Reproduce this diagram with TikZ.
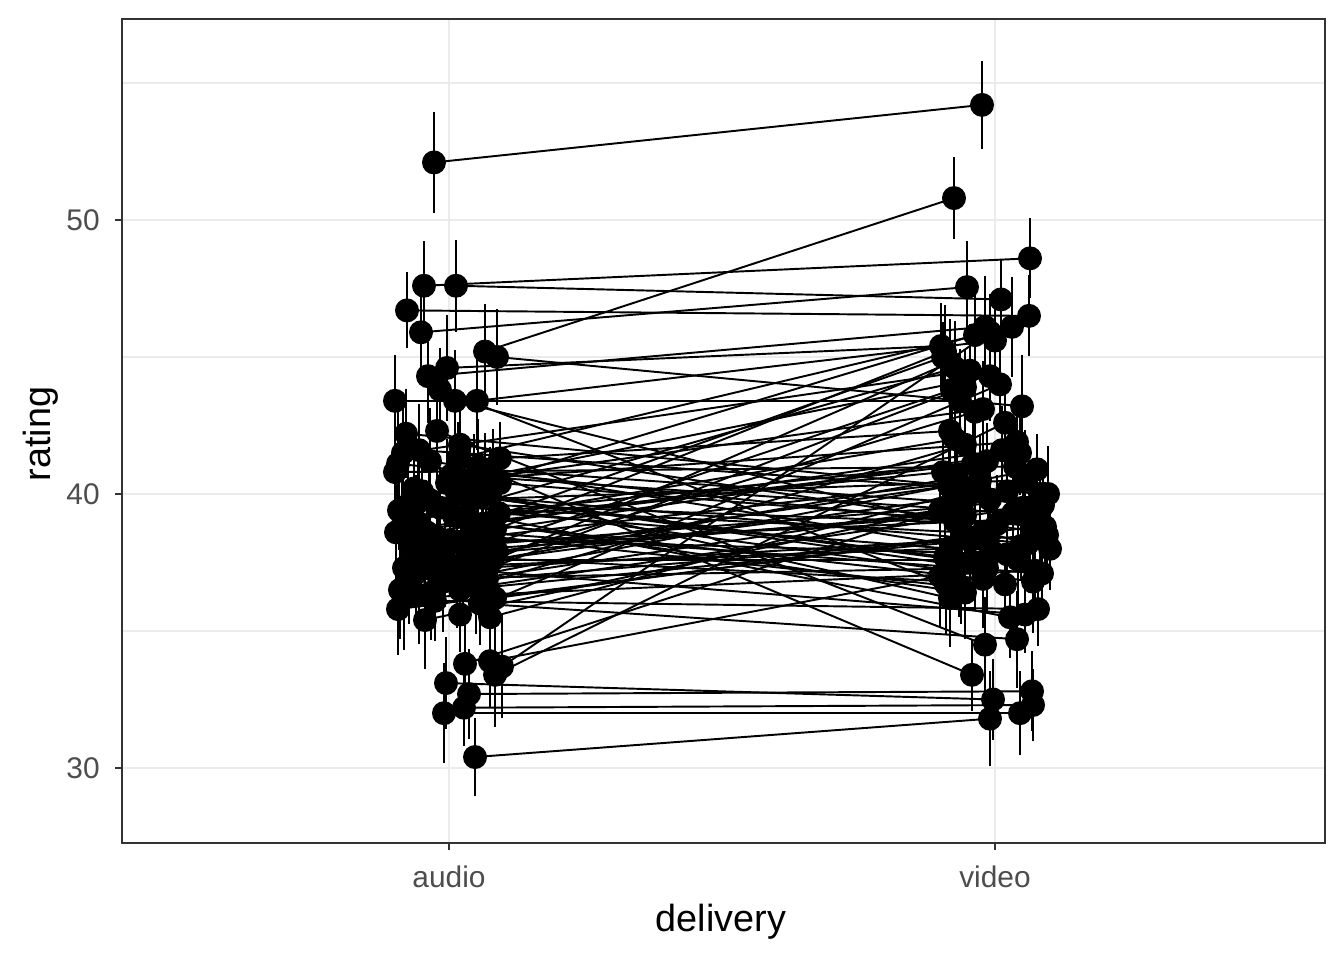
\documentclass[tikz,border=0pt]{standalone}
\usepackage{fontspec}
\setmainfont{Liberation Sans}
\definecolor{gridgrey}{HTML}{EBEBEB}
\definecolor{framegrey}{HTML}{333333}
\definecolor{labelgrey}{HTML}{4D4D4D}
\tikzset{
  gridmajor/.style={draw=gridgrey, line width=1.2pt},
  gridminor/.style={draw=gridgrey, line width=0.6pt},
  tickmark/.style={draw=framegrey, line width=1.1pt},
  ticklabel/.style={text=labelgrey, inner sep=0pt, font=\fontsize{17}{20}\selectfont},
  axistitle/.style={inner sep=0pt, font=\fontsize{21.5}{25}\selectfont},
  dot/.style={circle, fill=black, inner sep=0pt, minimum size=0.48cm},
  ebar/.style={line width=1.4pt},
  link/.style={line width=1.1pt}
}
\begin{document}
\begin{tikzpicture}
 \useasboundingbox (0,0) rectangle (26.88,19.2);
 \pgfmathsetseed{11}

 % grid
 \foreach \y in {6.58,12.06,17.54}
   \draw[gridminor] (2.44,\y) -- (26.5,\y);
 \foreach \y in {3.84,9.32,14.8}
   \draw[gridmajor] (2.44,\y) -- (26.5,\y);
 \foreach \x in {8.98,19.9}
   \draw[gridmajor] (\x,2.34) -- (\x,18.82);

 % rating audio / jitter, rating video / jitter
 \foreach \ra/\ja/\rv/\jv [count=\n] in {
   52.1/-15/54.2/-13, 45.2/36/50.8/-41, 47.6/-25/48.6/35, 47.6/7/47.1/6,
   46.7/-42/46.5/34, 45.9/-28/47.55/-28, 45.0/48/43.2/27, 44.3/-21/46.1/-10,
   44.6/-2/45.4/-54, 43.8/-9/36.7/-49, 43.4/-54/43.4/-35, 43.4/6/38.0/55,
   43.4/28/45.6/0, 42.3/-12/34.5/-10, 42.2/-43/40.0/45, 41.5/-46/44.5/-25,
   41.1/-51/39.0/-40, 40.8/-54/41.0/20, 41.3/9/46.1/17, 41.0/29/33.4/-23,
   41.3/51/42.3/-45, 40.2/-35/37.5/-20, 40.5/16/44.3/-5, 40.0/41/36.2/-45,
   40.4/51/38.8/50, 38.7/-37/42.0/-40, 39.5/-9/35.5/15, 39.8/21/40.5/30,
   38.7/46/41.5/25, 38.0/-19/39.5/-50, 37.6/-4/43.8/-43, 37.8/-29/36.7/10,
   36.5/-49/40.0/53, 35.8/-51/38.5/-15, 36.2/-45/37.2/40, 35.4/-24/39.8/-5,
   36.1/-14/35.8/43, 36.5/11/41.8/-30, 36.0/31/34.7/22, 36.2/46/38.8/38,
   35.6/11/44.0/5, 35.5/41/40.2/-20, 33.8/16/39.4/-55, 33.9/41/37.0/-55,
   33.7/53/45.9/-5, 33.4/46/42.6/10, 33.1/-3/32.5/-2, 32.7/20/32.8/37,
   32.0/-5/32.0/25, 32.2/15/32.3/38, 30.4/26/31.8/-5, 37.2/30/35.6/30,
   37.1/-33/40.6/-38, 38.4/-12/37.8/12, 39.2/5/41.2/-8, 40.1/-27/38.2/33,
   37.5/22/39.9/-28, 38.9/37/36.9/-12, 36.8/-6/40.9/42, 39.6/-41/38.6/-33,
   40.7/3/39.3/18, 38.2/12/45.2/-50, 37.3/-45/38.1/26, 39.9/33/37.4/-36,
   36.6/27/39.6/48, 38.6/-22/41.6/7, 41.2/-19/37.9/-3, 37.9/48/40.3/-46,
   39.4/-50/36.4/-30, 40.4/-2/43.1/-12, 38.1/-38/39.1/35, 36.9/38/38.4/-7,
   39.1/18/40.8/-52, 37.6/44/37.6/23, 40.9/36/39.7/-40, 38.5/28/36.6/-34,
   39.7/-31/38.9/2, 37.0/8/44.8/-45, 41.6/-30/40.1/12, 38.8/-47/37.1/47,
   36.4/-18/38.3/-25, 40.3/25/45.8/-20, 37.7/-10/39.5/28, 39.3/50/38.0/-44,
   38.3/1/40.5/-15, 36.9/-40/37.3/-8, 40.6/44/41.9/22, 38.0/34/39.2/-30,
   39.8/-20/36.8/38, 37.4/14/43.0/-20, 41.8/11/38.6/45, 38.6/-53/41.1/-22,
   36.3/-30/43.9/-30, 39.0/-33/44.6/-40, 40.0/8/37.7/-50, 37.2/-15/38.5/52,
   38.9/24/45.0/-52}
 {
   \pgfmathsetmacro\xa{8.98+0.02*\ja}
   \pgfmathsetmacro\ya{3.84+0.548*(\ra-30)}
   \pgfmathsetmacro\xv{19.9+0.02*\jv}
   \pgfmathsetmacro\yv{3.84+0.548*(\rv-30)}
   \pgfmathsetmacro\ea{0.548*(1.6+0.35*rand)}
   \pgfmathsetmacro\ev{0.548*(1.6+0.35*rand)}
   \node[dot] (a\n) at (\xa,\ya) {};
   \node[dot] (v\n) at (\xv,\yv) {};
   \draw[link] (a\n.center) -- (v\n.center);
   \draw[ebar] (\xa,{\ya-\ea}) -- (\xa,{\ya+\ea});
   \draw[ebar] (\xv,{\yv-\ev}) -- (\xv,{\yv+\ev});
 }

 % panel and axes
 \draw[framegrey, line width=1.1pt] (2.44,2.34) rectangle (26.5,18.82);
 \foreach \y/\t in {3.84/30,9.32/40,14.8/50}
 {
   \draw[tickmark] (2.44,\y) -- (2.29,\y);
   \node[ticklabel, anchor=east] (y\t) at (2.0,\y) {\t};
 }
 \foreach \x/\t in {8.98/audio,19.9/video}
 {
   \draw[tickmark] (\x,2.34) -- (\x,2.19);
   \node[ticklabel, anchor=base] (x\t) at (\x,1.44) {\t};
 }
 \node[axistitle, anchor=base] (xtitle) at (14.42,0.56) {delivery};
 \node[axistitle, anchor=base, rotate=90] (ytitle) at (1.0,10.52) {rating};
\end{tikzpicture}
\end{document}
